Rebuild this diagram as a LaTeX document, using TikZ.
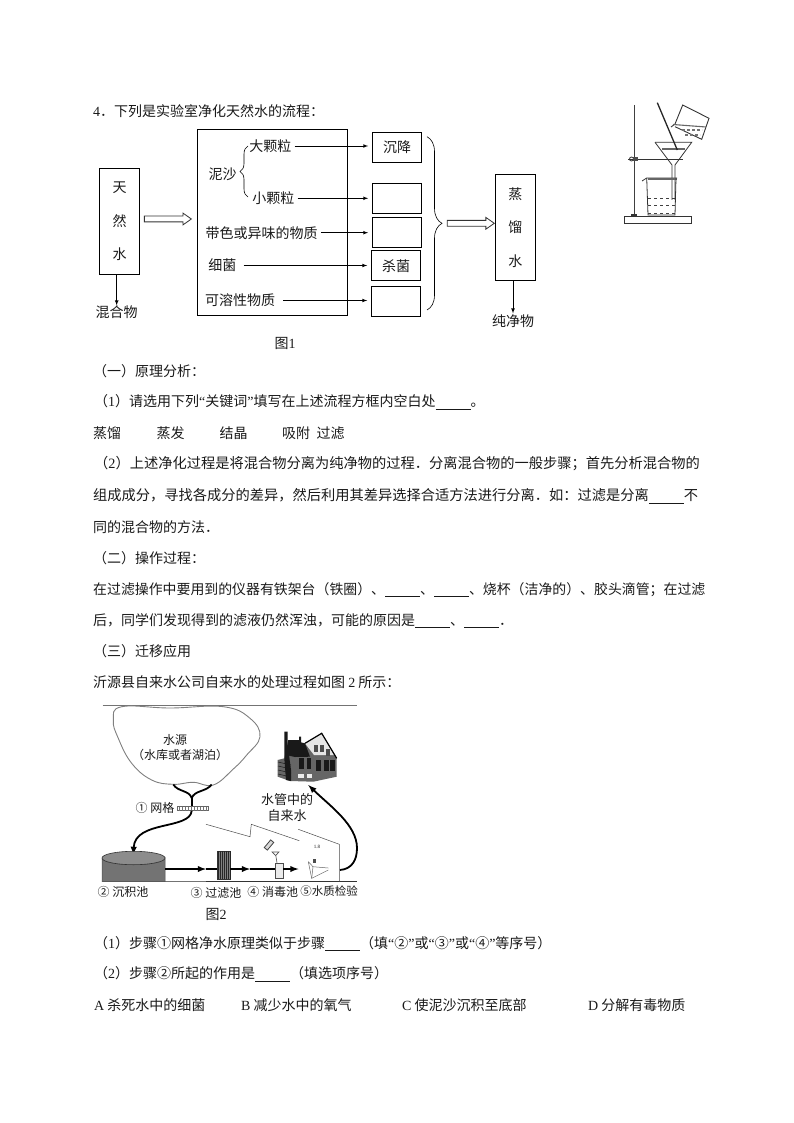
\documentclass[tikz,border=0pt]{standalone}
\usepackage{fontspec}
\setmainfont{Liberation Serif}
\newfontfamily\cjk{Noto Sans CJK SC}
\usetikzlibrary{shapes.arrows,decorations.pathreplacing}
\newcommand{\en}[1]{{\rmfamily #1}}
\newcommand{\blankfill}{\rule[-2.5pt]{35pt}{0.7pt}}
\tikzset{
	every node/.style={inner sep=0pt,text=black!90},
	bodyline/.style={anchor=west,font=\cjk\fontsize{14}{14}\selectfont},
	wideline/.style={anchor=west,font=\cjk\fontsize{14.25}{14}\selectfont},
	narrowline/.style={anchor=west,font=\cjk\fontsize{13.9}{14}\selectfont},
	flowlabel/.style={font=\cjk\fontsize{14}{14}\selectfont},
	smalllabel/.style={font=\cjk\fontsize{12}{12}\selectfont},
	flowbox/.style={draw=black,line width=0.7pt,minimum width=49pt,minimum height=30pt,font=\cjk\fontsize{14}{14}\selectfont},
	tallbox/.style={draw=black,line width=0.7pt,minimum width=40pt,minimum height=106pt,align=center,font=\cjk\fontsize{14}{33.5}\selectfont},
	hollowarrow/.style={single arrow,draw=black!80,line width=0.8pt,fill=white,inner xsep=0pt,inner ysep=2.5pt,minimum height=47pt,minimum width=11pt,single arrow head extend=3pt,single arrow tip angle=70},
	flowarrow/.style={->,>=latex,line width=0.7pt,shorten <=3pt,shorten >=4pt},
	pipe/.style={line width=1.8pt,black},
	pipearrow/.style={->,>=latex,line width=1.8pt,black},
	thinline/.style={line width=0.5pt,black!70},
}
\begin{document}
\begin{tikzpicture}[x=1pt,y=-1pt]
	\useasboundingbox (0,0) rectangle (794,1123);
	\node [bodyline] (title) at (93,111) {\en{4}．下列是实验室净化天然水的流程：};
	\node [tallbox] (tianBox) at (119.5,221.3) {天\\然\\水};
	\node [draw=black,line width=0.7pt,minimum width=150.4pt,minimum height=186pt] (mainBox) at (272.5,222.3) {};
	\node [flowbox] (chenBox) at (397,147.3) {沉降};
	\node [flowbox] (xiaoBox) at (397,198.3) {};
	\node [flowbox] (seBox) at (397,232.3) {};
	\node [flowbox] (shaBox) at (396,265.8) {杀菌};
	\node [flowbox] (rongBox) at (396,301.3) {};
	\node [tallbox] (zhengBox) at (515.3,227.3) {蒸\\馏\\水};
	\node [flowlabel] (hunLabel) at (116.7,312) {混合物};
	\node [flowlabel] (chunLabel) at (513,321) {纯净物};
	\node [flowlabel] (niLabel) at (222.7,174.3) {泥沙};
	\node [flowlabel] (daLabel) at (270.3,146) {大颗粒};
	\node [flowlabel] (xiaoLabel) at (273.3,198.3) {小颗粒};
	\node [flowlabel] (seLabel) at (261.7,232.7) {带色或异味的物质};
	\node [flowlabel] (junLabel) at (222.3,265.5) {细菌};
	\node [flowlabel] (rongLabel) at (240,300.5) {可溶性物质};
	\node [flowlabel] (figOne) at (285,343) {图\en{1}};
	\node [hollowarrow] (arrowIn) at (165.8,219) {};
	\node [hollowarrow] (arrowOut) at (468.7,223.3) {};
	\draw [flowarrow,shorten <=0pt,shorten >=0pt] (tianBox.south -| hunLabel) -- (hunLabel.north);
	\draw [flowarrow,shorten <=0pt,shorten >=1pt] (zhengBox.south -| chunLabel) -- (chunLabel.north);
	\draw [flowarrow] (daLabel.east) -- (daLabel.east -| chenBox.west);
	\draw [flowarrow] (xiaoLabel.east) -- (xiaoLabel.east -| xiaoBox.west);
	\draw [flowarrow] (seLabel.east) -- (seLabel.east -| seBox.west);
	\draw [flowarrow,shorten <=7pt] (junLabel.east) -- (junLabel.east -| shaBox.west);
	\draw [flowarrow,shorten <=8pt] (rongLabel.east) -- (rongLabel.east -| rongBox.west);
	\coordinate (smallTop) at (248,146);
	\coordinate (smallBottom) at (248,197);
	\coordinate (bigTop) at (427,136.7);
	\coordinate (bigBottom) at (427,310);
	\draw [decorate,decoration={brace,amplitude=8pt},line width=0.6pt] (smallBottom) -- (smallTop);
	\draw [decorate,decoration={brace,amplitude=15pt},line width=0.6pt] (bigTop) -- (bigBottom);
	\draw [line width=1.5pt,black!75] (634.3,105) -- (634.3,216);
	\draw [draw=black!80,fill=white,line width=0.8pt] (624.3,216.7) rectangle (691.7,223.3);
	\fill [black!80] (631,214.5) rectangle (637,217);
	\draw [line width=0.9pt,black!80] (628,159) -- (683,159);
	\draw [black!80,line width=0.8pt] (631.5,159) circle (2);
	\draw [fill=black!70,draw=none] (633,157) rectangle (638,161);
	\draw [black!80,line width=0.8pt] (655,142.3) -- (691.7,142.3) -- (675,165) -- (675,200);
	\draw [black!80,line width=0.8pt] (655,142.3) -- (672,165) -- (672,200);
	\draw [line width=1.2pt,black!60] (662,149) -- (685,149);
	\draw [line width=1.3pt,black!85] (657.3,102.7) -- (677.3,150);
	\draw [black!80,line width=0.9pt] (671,127) -- (675,124) -- (682.7,105) -- (709,118.3) -- (701.7,139.3) -- (675,126.7);
	\draw [line width=1.1pt,black!60] (673,124.5) -- (706,127);
	\draw [black!55,line width=2pt,dash pattern=on 3pt off 2pt] (682,130) -- (702,130);
	\draw [black!55,line width=2pt,dash pattern=on 3pt off 2pt] (685,135) -- (700,135);
	\draw [black!80,line width=0.8pt] (642,181) -- (646.7,178) -- (677,178);
	\draw [line width=1.5pt,black!60] (648,179) -- (677,179);
	\draw [black!80,line width=0.8pt] (646.7,178) -- (648,215) -- (675,215) -- (676,178);
	\draw [black!75,line width=0.6pt,dashed] (648,198) -- (675,198);
	\draw [black!75,line width=0.6pt,dashed] (648,205) -- (675,205);
	\draw [black!75,line width=0.6pt,dashed] (648,213) -- (675,213);
	\node [bodyline] (partOne) at (93,371.5) {（一）原理分析：};
	\node [bodyline] (qOne) at (94,402) {（\en{1}）请选用下列\en{“}关键词\en{”}填写在上述流程方框内空白处\blankfill 。};
	\node [bodyline] (wordA) at (93,433) {蒸馏};
	\node [bodyline] (wordB) at (156.5,433) {蒸发};
	\node [bodyline] (wordC) at (219.5,433) {结晶};
	\node [bodyline] (wordD) at (282,433) {吸附};
	\node [bodyline] (wordE) at (316.5,433) {过滤};
	\node [wideline] (qTwoA) at (94,464) {（\en{2}）上述净化过程是将混合物分离为纯净物的过程．分离混合物的一般步骤；首先分析混合物的};
	\node [wideline] (qTwoB) at (93,496) {组成成分，寻找各成分的差异，然后利用其差异选择合适方法进行分离．如：过滤是分离\blankfill 不};
	\node [bodyline] (qTwoC) at (93,527) {同的混合物的方法．};
	\node [bodyline] (partTwo) at (93,558) {（二）操作过程：};
	\node [narrowline] (opA) at (93,589.5) {在过滤操作中要用到的仪器有铁架台（铁圈）、\blankfill 、\blankfill 、烧杯（洁净的）、胶头滴管；在过滤};
	\node [bodyline] (opB) at (93,621) {后，同学们发现得到的滤液仍然浑浊，可能的原因是\blankfill 、\blankfill ．};
	\node [bodyline] (partThree) at (93,651) {（三）迁移应用};
	\node [bodyline] (intro) at (93,682) {沂源县自来水公司自来水的处理过程如图 \en{2} 所示：};
	\draw [thinline,black!55] (102.7,705.7) -- (356.7,705.7);
	\draw [thinline,black!55] (102.7,881.7) -- (206,881.7);
	\draw [thinline,black!80] (206,881.7) -- (356.7,881.7);
	\draw [black!50,line width=0.9pt,smooth cycle,tension=0.7] plot coordinates {(121.7,706.7) (113.3,720) (118.3,738.3) (131.7,763.3) (151.7,780) (173.3,784.3) (193.3,782.3) (213.3,785) (233.3,769) (246.7,755) (260,736.7) (250,718.3) (223.3,706.7) (170,708)};
	\node [smalllabel] (sourceLabel) at (175,740) {水源};
	\node [smalllabel] (lakeLabel) at (180,755) {（水库或者湖泊）};
	\node [smalllabel] (gridLabel) at (155,808) {① 网格};
	\node [draw=black!60,line width=0.5pt,minimum width=31pt,minimum height=4pt] (gridBox) at (192.5,808.5) {};
	\foreach \tickx in {179,182,...,206} \draw [black!55,line width=0.5pt] (\tickx,806.5) -- (\tickx,810.5);
	\coordinate (pipeJoin) at (191.7,798);
	\draw [pipe] (173.3,784.5) .. controls (178,792) and (189,790) .. (pipeJoin);
	\draw [pipe] (211.7,784.5) .. controls (206,792) and (195,790) .. (pipeJoin);
	\draw [pipe] (pipeJoin) -- (gridBox.north -| pipeJoin);
	\coordinate (tankTop) at (133.3,855);
	\draw [pipearrow] (gridBox.south -| pipeJoin) .. controls (190,830) and (135,820) .. (tankTop);
	\draw [draw=black!70,fill=black!55,line width=0.5pt] (102,858) -- (102,881.7) -- (165,881.7) -- (165,858) arc (0:180:31.5 and 6.7);
	\draw [draw=black!80,fill=black!45,line width=0.6pt] (133.5,858) ellipse (31.5 and 6.7);
	\coordinate (tankRight) at (165,869);
	\coordinate (arrowA) at (206,869);
	\node [draw=black!80,fill=black!50,minimum width=12.5pt,minimum height=28pt] (filterBox) at (223.8,865) {};
	\draw [black!85,line width=0.4pt,step=2] (218,851) grid (230,879);
	\coordinate (arrowB) at (250,869);
	\node [draw=black!70,fill=black!8,minimum width=8.5pt,minimum height=15.5pt] (bottleBox) at (279,870.5) {};
	\coordinate (arrowC) at (298.5,869);
	\draw [pipearrow] (tankRight) -- (arrowA);
	\draw [pipe] (arrowA) -- (filterBox.west |- arrowA);
	\draw [pipearrow] (filterBox.east |- arrowB) -- (arrowB);
	\draw [pipe] (arrowB) -- (bottleBox.west |- arrowB);
	\draw [pipearrow] (bottleBox.east |- arrowC) -- (arrowC);
	\draw [black!70,line width=0.6pt] (277,862.7) -- (275.7,855);
	\draw [black!70,line width=0.6pt] (272,852) -- (279,852) -- (275.7,855.5) -- cycle;
	\draw [black!75,fill=black!15,line width=0.8pt,rotate around={50:(269,845)}] (264,843) rectangle (274,847);
	\draw [thinline] (206,824.3) -- (250,836.7) -- (251.3,824.3) -- (299.3,840.7);
	\draw [thinline] (298.3,829.3) -- (339.3,844.3) -- (339.3,881.7);
	\draw [black!60,line width=0.5pt] (308.3,861.7) -- (311.7,878.3) -- (328.3,870);
	\draw [black!60,line width=0.5pt] (308.3,861.7) -- (313,866.7) -- (328.3,868);
	\draw [black!60,line width=0.5pt] (313,866.7) -- (311.7,878.3);
	\node [font=\rmfamily\fontsize{5}{5}\selectfont] (testMark) at (317,847) {1.8};
	\fill [black!70] (313,859) rectangle (315.5,863);
	\coordinate (pipeStart) at (340,870);
	\coordinate (houseBase) at (308.3,785);
	\draw [pipearrow] (pipeStart) .. controls (352,869) and (357,860) .. (357,848) .. controls (357,825) and (330,806) .. (houseBase);
	\fill [black!60] (277.7,760) -- (277.7,776.7) -- (290,781) -- (313.3,781.7) -- (336.7,776.7) -- (336.7,758.3) -- (321.7,733.3) -- (305,743.3) -- (288.3,740) -- (284.3,758.3) -- cycle;
	\fill [black!90] (284.3,731.7) -- (287.7,731.7) -- (287.7,745) -- (291,770) -- (291,781) -- (286,780) -- (284.3,758.3) -- cycle;
	\fill [black!90] (288.3,740) -- (299,740) -- (299,736.5) -- (301,736.5) -- (301,742.5) -- (305,743.3) -- (310,756.7) -- (295,757) -- (286,755) -- cycle;
	\fill [black!10] (305,743.3) -- (321.7,733.3) -- (334,755) -- (314,755) -- cycle;
	\draw [black,line width=1.2pt] (305,743.3) -- (321.7,733.3) -- (336.7,758.3);
	\foreach \winx/\winy in {299/758,306.7/758,316/760,324/760,330/760} \fill [black!90] (\winx,\winy) rectangle +(4.5,11);
	\foreach \winx/\winy in {314/745,320/745,326/749} \fill [black!70] (\winx,\winy) rectangle +(4,7);
	\foreach \logy in {762,766,770,774} \draw [black!90,line width=0.5pt] (278,\logy) -- (291,\logy+3);
	\fill [black!8] (298,774) rectangle (304,778);
	\fill [black!8] (307,774) rectangle (312,778);
	\node [font=\cjk\fontsize{13}{16}\selectfont,align=center] (pipeLabel) at (287,808) {水管中的\\自来水};
	\node [smalllabel] (tankLabel) at (123,892) {② 沉积池};
	\node [smalllabel] (filterLabel) at (216,892.5) {③ 过滤池};
	\node [smalllabel] (disLabel) at (272.7,892) {④ 消毒池};
	\node [font=\cjk\fontsize{11.5}{12}\selectfont] (testLabel) at (329,891) {⑤水质检验};
	\node [flowlabel] (figTwo) at (216,914) {图\en{2}};
	\node [bodyline] (stepA) at (94,943.5) {（\en{1}）步骤①网格净水原理类似于步骤\blankfill （填\en{“}②\en{”}或\en{“}③\en{”}或\en{“}④\en{”}等序号）};
	\node [bodyline] (stepB) at (94,974) {（\en{2}）步骤②所起的作用是\blankfill （填选项序号）};
	\node [bodyline] (optA) at (94,1005) {\en{A} 杀死水中的细菌};
	\node [bodyline] (optB) at (241,1005) {\en{B} 减少水中的氧气};
	\node [bodyline] (optC) at (402,1005) {\en{C} 使泥沙沉积至底部};
	\node [bodyline] (optD) at (588,1005) {\en{D} 分解有毒物质};
\end{tikzpicture}
\end{document}
